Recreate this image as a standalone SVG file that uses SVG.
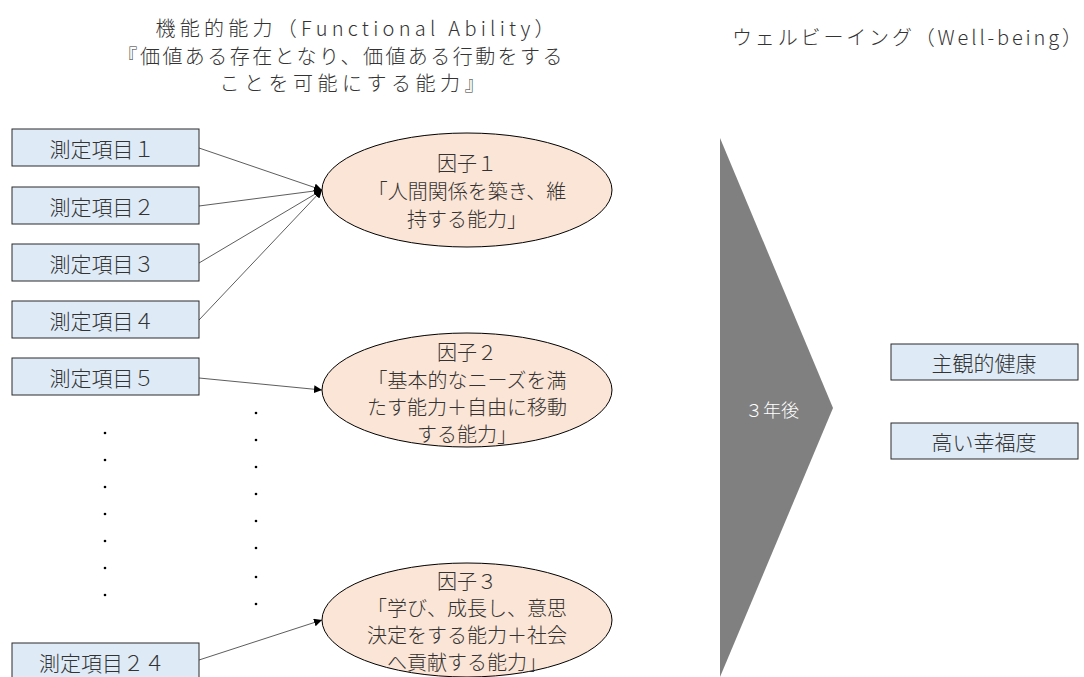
<svg xmlns="http://www.w3.org/2000/svg" width="1084" height="677" viewBox="0 0 1084 677">
<defs>
<marker id="ah" viewBox="0 0 10 10" refX="10" refY="5" markerWidth="8" markerHeight="8" markerUnits="userSpaceOnUse" orient="auto">
<path d="M0,0 L10,5 L0,10 z" fill="#000"/>
</marker>
</defs>
<style>
text{font-family:"Noto Sans CJK JP","Noto Sans",sans-serif;font-weight:300;fill:#333;font-size:20px;text-anchor:middle;dominant-baseline:central}
.b{font-size:21px}
.box{fill:#DEEBF7;stroke:#2b2b2b;stroke-width:1}
.ell{fill:#FBE5D6;stroke:#000;stroke-width:1}
.con{stroke:#333;stroke-width:0.8;fill:none;marker-end:url(#ah)}
.dot{fill:#000}
</style>
<rect width="1084" height="677" fill="#fff"/>
<g id="title-left">
<text x="355" y="27" textLength="399" lengthAdjust="spacing">機能的能力（Functional Ability）</text>
<text x="340" y="55" textLength="445" lengthAdjust="spacing">『価値ある存在となり、価値ある行動をする</text>
<text x="352" y="82" textLength="265" lengthAdjust="spacing">ことを可能にする能力』</text>
</g>
<g id="title-right">
<text x="907" y="36" textLength="350" lengthAdjust="spacing">ウェルビーイング（Well-being）</text>
</g>
<g id="connectors">
<line class="con" x1="199" y1="148" x2="322" y2="190"/>
<line class="con" x1="199" y1="206" x2="322" y2="190"/>
<line class="con" x1="199" y1="263" x2="322" y2="190"/>
<line class="con" x1="199" y1="320" x2="322" y2="190"/>
<line class="con" x1="199" y1="378" x2="322" y2="390"/>
<line class="con" x1="199" y1="660" x2="322" y2="620"/>
</g>
<g id="item1"><rect class="box" x="12" y="129" width="187" height="37"/><text class="b" x="102" y="148">測定項目１</text></g>
<g id="item2"><rect class="box" x="12" y="187" width="187" height="37"/><text class="b" x="102" y="206">測定項目２</text></g>
<g id="item3"><rect class="box" x="12" y="244" width="187" height="37"/><text class="b" x="102" y="263">測定項目３</text></g>
<g id="item4"><rect class="box" x="12" y="301" width="187" height="37"/><text class="b" x="102" y="320">測定項目４</text></g>
<g id="item5"><rect class="box" x="12" y="358" width="187" height="37"/><text class="b" x="102" y="377">測定項目５</text></g>
<g id="item24"><rect class="box" x="12" y="643" width="187" height="40"/><text class="b" x="102" y="662">測定項目２４</text></g>
<g id="dots-left">
<circle class="dot" cx="105" cy="433" r="1.3"/><circle class="dot" cx="105" cy="460" r="1.3"/><circle class="dot" cx="105" cy="487" r="1.3"/><circle class="dot" cx="105" cy="514" r="1.3"/><circle class="dot" cx="105" cy="541" r="1.3"/><circle class="dot" cx="105" cy="568" r="1.3"/><circle class="dot" cx="105" cy="595" r="1.3"/>
</g>
<g id="dots-right">
<circle class="dot" cx="256" cy="413" r="1.3"/><circle class="dot" cx="256" cy="440" r="1.3"/><circle class="dot" cx="256" cy="467" r="1.3"/><circle class="dot" cx="256" cy="494" r="1.3"/><circle class="dot" cx="256" cy="521" r="1.3"/><circle class="dot" cx="256" cy="548" r="1.3"/><circle class="dot" cx="256" cy="577" r="1.3"/><circle class="dot" cx="256" cy="604" r="1.3"/>
</g>
<g id="factor1"><ellipse class="ell" cx="467" cy="190" rx="145" ry="57"/>
<text x="467" y="162">因子１</text><text x="467" y="190">「人間関係を築き、維</text><text x="467" y="218">持する能力」</text></g>
<g id="factor2"><ellipse class="ell" cx="467" cy="390" rx="145" ry="57"/>
<text x="467" y="351">因子２</text><text x="467" y="379">「基本的なニーズを満</text><text x="467" y="406">たす能力＋自由に移動</text><text x="467" y="433">する能力」</text></g>
<g id="factor3"><ellipse class="ell" cx="467" cy="620" rx="145" ry="57"/>
<text x="467" y="580">因子３</text><text x="467" y="607">「学び、成長し、意思</text><text x="467" y="634">決定をする能力＋社会</text><text x="467" y="661">へ貢献する能力」</text></g>
<g id="arrow-3years">
<polygon points="720,138 833,408 720,677" fill="#808080"/>
<text x="772" y="409" style="fill:#fff;font-size:18px">３年後</text>
</g>
<g id="health"><rect class="box" x="891" y="344" width="187" height="36"/><text class="b" x="984" y="362">主観的健康</text></g>
<g id="happiness"><rect class="box" x="891" y="423" width="187" height="36"/><text class="b" x="984" y="441">高い幸福度</text></g>
</svg>
